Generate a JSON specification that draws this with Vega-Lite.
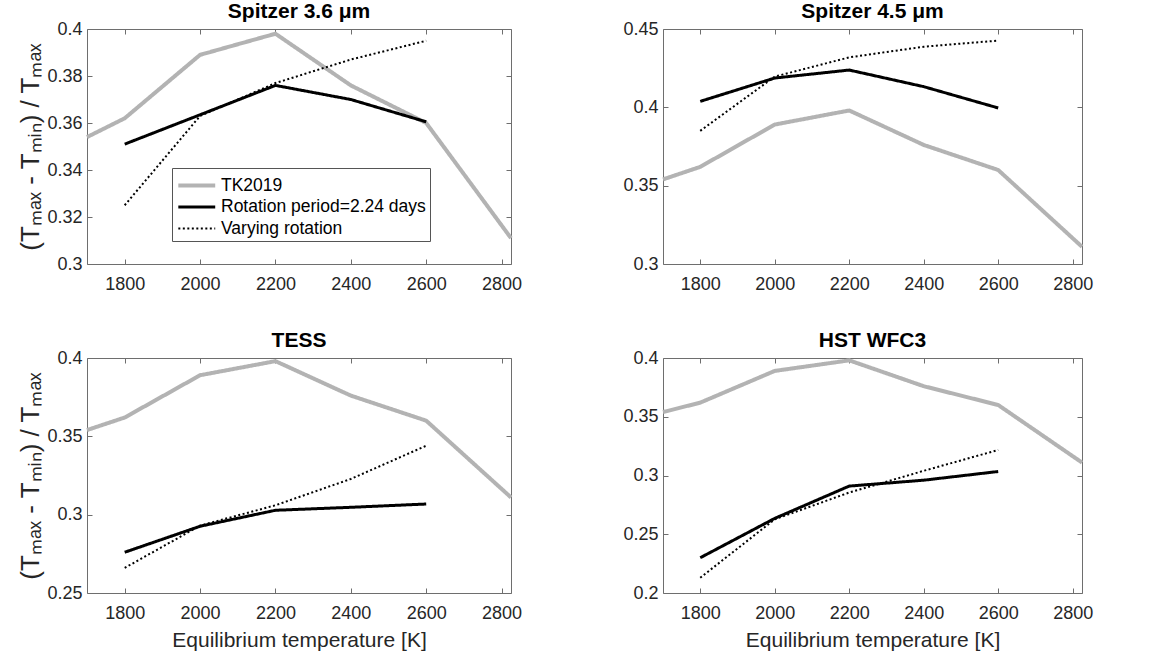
{
  "$schema": "https://vega.github.io/schema/vega-lite/v6.json",
  "background": "white",
  "padding": {"left": 17, "top": 0, "right": 5, "bottom": 5},
  "datasets": {
    "tk": [
      {"series": "TK2019", "T": 1700, "v": 0.354},
      {"series": "TK2019", "T": 1800, "v": 0.362},
      {"series": "TK2019", "T": 2000, "v": 0.389},
      {"series": "TK2019", "T": 2200, "v": 0.398},
      {"series": "TK2019", "T": 2400, "v": 0.376},
      {"series": "TK2019", "T": 2600, "v": 0.360},
      {"series": "TK2019", "T": 2825, "v": 0.311}
    ],
    "models": [
      {"panel": "s36", "series": "Rotation period=2.24 days", "T": 1800, "v": 0.351},
      {"panel": "s36", "series": "Rotation period=2.24 days", "T": 2000, "v": 0.3635},
      {"panel": "s36", "series": "Rotation period=2.24 days", "T": 2200, "v": 0.376},
      {"panel": "s36", "series": "Rotation period=2.24 days", "T": 2400, "v": 0.370},
      {"panel": "s36", "series": "Rotation period=2.24 days", "T": 2600, "v": 0.3605},
      {"panel": "s36", "series": "Varying rotation", "T": 1800, "v": 0.325},
      {"panel": "s36", "series": "Varying rotation", "T": 2000, "v": 0.363},
      {"panel": "s36", "series": "Varying rotation", "T": 2200, "v": 0.377},
      {"panel": "s36", "series": "Varying rotation", "T": 2400, "v": 0.387},
      {"panel": "s36", "series": "Varying rotation", "T": 2600, "v": 0.395},
      {"panel": "s45", "series": "Rotation period=2.24 days", "T": 1800, "v": 0.4038},
      {"panel": "s45", "series": "Rotation period=2.24 days", "T": 2000, "v": 0.4187},
      {"panel": "s45", "series": "Rotation period=2.24 days", "T": 2200, "v": 0.4238},
      {"panel": "s45", "series": "Rotation period=2.24 days", "T": 2400, "v": 0.4132},
      {"panel": "s45", "series": "Rotation period=2.24 days", "T": 2600, "v": 0.3996},
      {"panel": "s45", "series": "Varying rotation", "T": 1800, "v": 0.385},
      {"panel": "s45", "series": "Varying rotation", "T": 2000, "v": 0.4196},
      {"panel": "s45", "series": "Varying rotation", "T": 2200, "v": 0.4319},
      {"panel": "s45", "series": "Varying rotation", "T": 2400, "v": 0.4387},
      {"panel": "s45", "series": "Varying rotation", "T": 2600, "v": 0.4426},
      {"panel": "tess", "series": "Rotation period=2.24 days", "T": 1800, "v": 0.276},
      {"panel": "tess", "series": "Rotation period=2.24 days", "T": 2000, "v": 0.2926},
      {"panel": "tess", "series": "Rotation period=2.24 days", "T": 2200, "v": 0.3028},
      {"panel": "tess", "series": "Rotation period=2.24 days", "T": 2400, "v": 0.3047},
      {"panel": "tess", "series": "Rotation period=2.24 days", "T": 2600, "v": 0.3068},
      {"panel": "tess", "series": "Varying rotation", "T": 1800, "v": 0.266},
      {"panel": "tess", "series": "Varying rotation", "T": 2000, "v": 0.293},
      {"panel": "tess", "series": "Varying rotation", "T": 2200, "v": 0.306},
      {"panel": "tess", "series": "Varying rotation", "T": 2400, "v": 0.3228},
      {"panel": "tess", "series": "Varying rotation", "T": 2600, "v": 0.344},
      {"panel": "hst", "series": "Rotation period=2.24 days", "T": 1800, "v": 0.230},
      {"panel": "hst", "series": "Rotation period=2.24 days", "T": 2000, "v": 0.2635},
      {"panel": "hst", "series": "Rotation period=2.24 days", "T": 2200, "v": 0.291},
      {"panel": "hst", "series": "Rotation period=2.24 days", "T": 2400, "v": 0.296},
      {"panel": "hst", "series": "Rotation period=2.24 days", "T": 2600, "v": 0.3034},
      {"panel": "hst", "series": "Varying rotation", "T": 1800, "v": 0.213},
      {"panel": "hst", "series": "Varying rotation", "T": 2000, "v": 0.2627},
      {"panel": "hst", "series": "Varying rotation", "T": 2200, "v": 0.2855},
      {"panel": "hst", "series": "Varying rotation", "T": 2400, "v": 0.304},
      {"panel": "hst", "series": "Varying rotation", "T": 2600, "v": 0.3217}
    ]
  },
  "columns": 2,
  "spacing": {"row": 94, "column": 152},
  "bounds": "flush",
  "resolve": {
    "scale": {"color": "independent", "strokeDash": "independent", "strokeWidth": "independent"},
    "legend": {"color": "independent", "strokeDash": "independent", "strokeWidth": "independent"}
  },
  "concat": [
    {
      "width": 424, "height": 235,
      "title": "Spitzer 3.6 μm",
      "resolve": {"axis": {"x": "independent", "y": "independent"}},
      "layer": [
        {
          "data": {"name": "tk"},
          "mark": {"type": "line"},
          "encoding": {
            "x": {"field": "T", "type": "quantitative", "scale": {"domain": [1700, 2825], "nice": false, "zero": false},
                  "axis": {"orient": "bottom", "values": [1800, 2000, 2200, 2400, 2600, 2800], "format": "d", "title": null}},
            "y": {"field": "v", "type": "quantitative", "scale": {"domain": [0.3, 0.4], "nice": false, "zero": false},
                  "axis": {"orient": "left", "values": [0.3, 0.32, 0.34, 0.36, 0.38, 0.4], "format": ".2~f", "title": "(Tₘₐₓ - Tₘᵢₙ) / Tₘₐₓ"}},
            "color": {"field": "series", "type": "nominal",
                      "scale": {"domain": ["TK2019", "Rotation period=2.24 days", "Varying rotation"], "range": ["#b3b3b3", "#000000", "#000000"]},
                      "legend": {"orient": "none", "legendX": 85, "legendY": 139, "title": null, "symbolType": "M-1,0H2.3", "symbolSize": 500,
                                 "labelFontSize": 17.5, "labelColor": "#000000", "labelLimit": 400, "strokeColor": "#555555", "fillColor": "white", "padding": 4, "rowPadding": 0, "labelOffset": 18}},
            "strokeDash": {"field": "series", "type": "nominal",
                      "scale": {"domain": ["TK2019", "Rotation period=2.24 days", "Varying rotation"], "range": [[1, 0], [1, 0], [2, 2.5]]},
                      "legend": {"orient": "none", "legendX": 85, "legendY": 139, "title": null, "symbolType": "M-1,0H2.3", "symbolSize": 500,
                                 "labelFontSize": 17.5, "labelColor": "#000000", "labelLimit": 400, "strokeColor": "#555555", "fillColor": "white", "padding": 4, "rowPadding": 0, "labelOffset": 18}},
            "strokeWidth": {"field": "series", "type": "nominal",
                      "scale": {"domain": ["TK2019", "Rotation period=2.24 days", "Varying rotation"], "range": [4, 2, 2.5]},
                      "legend": {"orient": "none", "legendX": 85, "legendY": 139, "title": null, "symbolType": "M-1,0H2.3", "symbolSize": 500,
                                 "labelFontSize": 17.5, "labelColor": "#000000", "labelLimit": 400, "strokeColor": "#555555", "fillColor": "white", "padding": 4, "rowPadding": 0, "labelOffset": 18}}
          }
        },
        {
          "data": {"name": "models"},
          "transform": [{"filter": "datum.panel == 's36'"}],
          "mark": {"type": "line"},
          "encoding": {
            "x": {"field": "T", "type": "quantitative", "axis": {"orient": "top", "values": [1800, 2000, 2200, 2400, 2600, 2800], "labels": false, "title": null}},
            "y": {"field": "v", "type": "quantitative", "axis": {"orient": "right", "values": [0.3, 0.32, 0.34, 0.36, 0.38, 0.4], "labels": false, "title": null}},
            "color": {"field": "series", "type": "nominal"},
            "strokeDash": {"field": "series", "type": "nominal"},
            "strokeWidth": {"field": "series", "type": "nominal"}
          }
        }
      ]
    },
    {
      "width": 419, "height": 235,
      "title": "Spitzer 4.5 μm",
      "resolve": {"axis": {"x": "independent", "y": "independent"}},
      "layer": [
        {
          "data": {"name": "tk"},
          "mark": {"type": "line"},
          "encoding": {
            "x": {"field": "T", "type": "quantitative", "scale": {"domain": [1700, 2825], "nice": false, "zero": false},
                  "axis": {"orient": "bottom", "values": [1800, 2000, 2200, 2400, 2600, 2800], "format": "d", "title": null}},
            "y": {"field": "v", "type": "quantitative", "scale": {"domain": [0.3, 0.45], "nice": false, "zero": false},
                  "axis": {"orient": "left", "values": [0.3, 0.35, 0.4, 0.45], "format": ".2~f", "title": null}},
            "color": {"field": "series", "type": "nominal", "legend": null,
                      "scale": {"domain": ["TK2019", "Rotation period=2.24 days", "Varying rotation"], "range": ["#b3b3b3", "#000000", "#000000"]}},
            "strokeDash": {"field": "series", "type": "nominal", "legend": null,
                      "scale": {"domain": ["TK2019", "Rotation period=2.24 days", "Varying rotation"], "range": [[1, 0], [1, 0], [2, 2.5]]}},
            "strokeWidth": {"field": "series", "type": "nominal", "legend": null,
                      "scale": {"domain": ["TK2019", "Rotation period=2.24 days", "Varying rotation"], "range": [4, 2, 2.5]}}
          }
        },
        {
          "data": {"name": "models"},
          "transform": [{"filter": "datum.panel == 's45'"}],
          "mark": {"type": "line"},
          "encoding": {
            "x": {"field": "T", "type": "quantitative", "axis": {"orient": "top", "values": [1800, 2000, 2200, 2400, 2600, 2800], "labels": false, "title": null}},
            "y": {"field": "v", "type": "quantitative", "axis": {"orient": "right", "values": [0.3, 0.35, 0.4, 0.45], "labels": false, "title": null}},
            "color": {"field": "series", "type": "nominal", "legend": null},
            "strokeDash": {"field": "series", "type": "nominal", "legend": null},
            "strokeWidth": {"field": "series", "type": "nominal", "legend": null}
          }
        }
      ]
    },
    {
      "width": 424, "height": 235,
      "title": "TESS",
      "resolve": {"axis": {"x": "independent", "y": "independent"}},
      "layer": [
        {
          "data": {"name": "tk"},
          "mark": {"type": "line"},
          "encoding": {
            "x": {"field": "T", "type": "quantitative", "scale": {"domain": [1700, 2825], "nice": false, "zero": false},
                  "axis": {"orient": "bottom", "values": [1800, 2000, 2200, 2400, 2600, 2800], "format": "d", "title": "Equilibrium temperature [K]"}},
            "y": {"field": "v", "type": "quantitative", "scale": {"domain": [0.25, 0.4], "nice": false, "zero": false},
                  "axis": {"orient": "left", "values": [0.25, 0.3, 0.35, 0.4], "format": ".2~f", "title": "(Tₘₐₓ - Tₘᵢₙ) / Tₘₐₓ"}},
            "color": {"field": "series", "type": "nominal", "legend": null,
                      "scale": {"domain": ["TK2019", "Rotation period=2.24 days", "Varying rotation"], "range": ["#b3b3b3", "#000000", "#000000"]}},
            "strokeDash": {"field": "series", "type": "nominal", "legend": null,
                      "scale": {"domain": ["TK2019", "Rotation period=2.24 days", "Varying rotation"], "range": [[1, 0], [1, 0], [2, 2.5]]}},
            "strokeWidth": {"field": "series", "type": "nominal", "legend": null,
                      "scale": {"domain": ["TK2019", "Rotation period=2.24 days", "Varying rotation"], "range": [4, 2, 2.5]}}
          }
        },
        {
          "data": {"name": "models"},
          "transform": [{"filter": "datum.panel == 'tess'"}],
          "mark": {"type": "line"},
          "encoding": {
            "x": {"field": "T", "type": "quantitative", "axis": {"orient": "top", "values": [1800, 2000, 2200, 2400, 2600, 2800], "labels": false, "title": null}},
            "y": {"field": "v", "type": "quantitative", "axis": {"orient": "right", "values": [0.25, 0.3, 0.35, 0.4], "labels": false, "title": null}},
            "color": {"field": "series", "type": "nominal", "legend": null},
            "strokeDash": {"field": "series", "type": "nominal", "legend": null},
            "strokeWidth": {"field": "series", "type": "nominal", "legend": null}
          }
        }
      ]
    },
    {
      "width": 419, "height": 235,
      "title": "HST WFC3",
      "resolve": {"axis": {"x": "independent", "y": "independent"}},
      "layer": [
        {
          "data": {"name": "tk"},
          "mark": {"type": "line"},
          "encoding": {
            "x": {"field": "T", "type": "quantitative", "scale": {"domain": [1700, 2825], "nice": false, "zero": false},
                  "axis": {"orient": "bottom", "values": [1800, 2000, 2200, 2400, 2600, 2800], "format": "d", "title": "Equilibrium temperature [K]"}},
            "y": {"field": "v", "type": "quantitative", "scale": {"domain": [0.2, 0.4], "nice": false, "zero": false},
                  "axis": {"orient": "left", "values": [0.2, 0.25, 0.3, 0.35, 0.4], "format": ".2~f", "title": null}},
            "color": {"field": "series", "type": "nominal", "legend": null,
                      "scale": {"domain": ["TK2019", "Rotation period=2.24 days", "Varying rotation"], "range": ["#b3b3b3", "#000000", "#000000"]}},
            "strokeDash": {"field": "series", "type": "nominal", "legend": null,
                      "scale": {"domain": ["TK2019", "Rotation period=2.24 days", "Varying rotation"], "range": [[1, 0], [1, 0], [2, 2.5]]}},
            "strokeWidth": {"field": "series", "type": "nominal", "legend": null,
                      "scale": {"domain": ["TK2019", "Rotation period=2.24 days", "Varying rotation"], "range": [4, 2, 2.5]}}
          }
        },
        {
          "data": {"name": "models"},
          "transform": [{"filter": "datum.panel == 'hst'"}],
          "mark": {"type": "line"},
          "encoding": {
            "x": {"field": "T", "type": "quantitative", "axis": {"orient": "top", "values": [1800, 2000, 2200, 2400, 2600, 2800], "labels": false, "title": null}},
            "y": {"field": "v", "type": "quantitative", "axis": {"orient": "right", "values": [0.2, 0.25, 0.3, 0.35, 0.4], "labels": false, "title": null}},
            "color": {"field": "series", "type": "nominal", "legend": null},
            "strokeDash": {"field": "series", "type": "nominal", "legend": null},
            "strokeWidth": {"field": "series", "type": "nominal", "legend": null}
          }
        }
      ]
    }
  ],
  "config": {
    "font": "Liberation Sans",
    "view": {"stroke": "#6e6e6e", "strokeWidth": 1},
    "axis": {"domain": false, "grid": false, "ticks": true, "tickColor": "#6e6e6e", "tickSize": -5, "tickWidth": 1, "labelPadding": 10,
             "labelFont": "Liberation Sans", "labelFontSize": 18, "labelColor": "#262626",
             "titleFont": "Liberation Sans", "titleFontSize": 21, "titleColor": "#262626", "titleFontWeight": "normal", "titlePadding": 4},
    "axisX": {"labelPadding": 16, "titlePadding": 7},
    "axisLeft": {"titleFontSize": 26, "titlePadding": 3},
    "title": {"font": "Liberation Sans", "fontSize": 21, "fontWeight": "bold", "color": "#000000", "offset": -2},
    "legend": {"labelFont": "Liberation Sans"}
  }
}
